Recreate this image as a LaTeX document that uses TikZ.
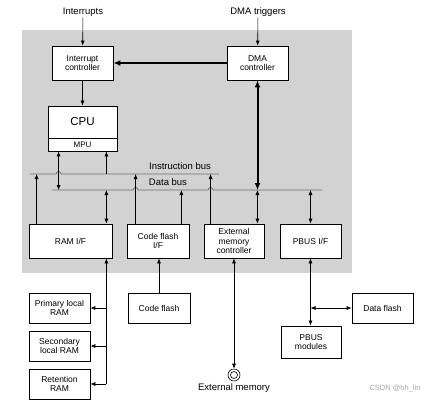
\documentclass[tikz,border=0pt]{standalone}
\usepackage{fontspec}
\setmainfont{Liberation Sans}
\usetikzlibrary{positioning}
\usetikzlibrary{arrows.meta}
\tikzstyle{unit} = [rectangle, draw=black, fill=white, line width=0.8pt, text centered, align=center, inner sep=1pt, font=\fontsize{8.5}{9.3}\selectfont]
\tikzstyle{sig} = [inner sep=1pt, font=\fontsize{9.5}{11}\selectfont]
\tikzstyle{arrow} = [line width=0.6pt, ->, >={Latex[length=5pt,width=4pt]}]
\tikzstyle{twoway} = [arrow, <->]
\tikzstyle{thickarrow} = [line width=2pt, ->, >={Latex[length=7pt,width=6pt]}]
\tikzstyle{bus} = [line width=0.8pt, gray!85!black]

\begin{document}
\begin{tikzpicture}[x=1pt, y=-1pt]
\useasboundingbox (0,0) rectangle (434,400);
\fill[gray!35] (22,30) rectangle (352,273);

% controllers and cpu
\node (irq) [sig] at (83,12) {Interrupts};
\node (dmatrig) [sig] at (258,12) {DMA triggers};
\node (intc) [unit, minimum width=61pt, minimum height=34pt] at (82.5,63) {Interrupt\\controller};
\node (dmac) [unit, minimum width=61pt, minimum height=34pt] at (257.5,63) {DMA\\controller};
\node (cpu) [unit, minimum width=69pt, minimum height=32pt, font=\fontsize{11.5}{13}\selectfont] at (82.5,122) {CPU};
\node (mpu) [unit, minimum width=69pt, minimum height=13pt, font=\fontsize{8}{9}\selectfont] at (82.5,144.5) {MPU};

% interfaces
\node (ramif) [unit, minimum width=83pt, minimum height=34pt] at (70.5,241) {RAM I/F};
\node (cfif) [unit, minimum width=62pt, minimum height=34pt] at (158,241) {Code flash\\I/F};
\node (emc) [unit, minimum width=60pt, minimum height=34pt] at (234,241) {External\\memory\\controller};
\node (pbusif) [unit, minimum width=61pt, minimum height=34pt] at (310.5,241) {PBUS I/F};

% memories and modules
\node (prim) [unit, minimum width=61pt, minimum height=30pt] at (59.5,308) {Primary local\\RAM};
\node (sec) [unit, minimum width=61pt, minimum height=30pt] at (59.5,346) {Secondary\\local RAM};
\node (ret) [unit, minimum width=61pt, minimum height=30pt] at (59.5,384) {Retention\\RAM};
\node (cflash) [unit, minimum width=62pt, minimum height=30pt] at (159,308) {Code flash};
\node (pbusmod) [unit, minimum width=60pt, minimum height=32pt] at (311,342) {PBUS\\modules};
\node (dflash) [unit, minimum width=61pt, minimum height=30pt] at (382.5,308) {Data flash};
\node (extmem) [circle, draw, line width=0.6pt, minimum size=12pt, inner sep=0pt] at (234,375) {};
\draw[line width=0.6pt] (extmem.center) circle[radius=3.5pt];
\node (extmemlabel) [sig] at (234,388) {External memory};
\node (mark) [font=\fontsize{7.5}{9}\selectfont, text=gray!70] at (395,389) {CSDN @hh\_lin};

% buses
\coordinate (ibw) at (30,174);
\coordinate (ibe) at (219,174);
\coordinate (dbw) at (52,190);
\coordinate (dbe) at (322,190);
\node (iblabel) [sig] at (180,166) {Instruction bus};
\node (dblabel) [sig] at (168,182) {Data bus};

\coordinate (cpud) at ([xshift=11pt]mpu.south west);
\coordinate (cpui) at ([xshift=-11pt]mpu.south east);
\coordinate (rami) at ([xshift=8pt]ramif.north west);
\coordinate (ramd) at ([xshift=-6pt]ramif.north east);
\coordinate (cfi) at ([xshift=9pt]cfif.north west);
\coordinate (cfd) at ([xshift=-8pt]cfif.north east);
\coordinate (emi) at ([xshift=7pt]emc.north west);
\coordinate (emd) at ([xshift=-7pt]emc.north east);

\draw[bus] (ibw) -- ([xshift=-2.5pt]cpud |- ibw) arc[start angle=180, end angle=0, radius=2.5pt] -- (ibe);
\draw[bus] (dbw) -- ([xshift=-2.5pt]cfi |- dbw) arc[start angle=180, end angle=0, radius=2.5pt]
  -- ([xshift=-2.5pt]emi |- dbw) arc[start angle=180, end angle=0, radius=2.5pt] -- (dbe);

% connections
\draw [arrow] (irq) -- (intc);
\draw [arrow] (dmatrig) -- (dmac);
\draw [arrow] (intc) -- (cpu);
\draw [thickarrow] (dmac.west) -- (intc.east);
\draw [thickarrow, <->] (dmac.south) -- (dmac.south |- dbw);

\draw [twoway] (cpud) -- (cpud |- dbw);
\draw [arrow] (cpui |- ibw) -- (cpui);
\draw [arrow] (rami) -- (rami |- ibw);
\draw [twoway] (ramd |- dbw) -- (ramd);
\draw [arrow] (cfi) -- (cfi |- ibw);
\draw [arrow] (cfd) -- (cfd |- dbw);
\draw [arrow] (emi) -- (emi |- ibw);
\draw [twoway] (emd |- dbw) -- (emd);
\draw [twoway] (pbusif.north |- dbw) -- (pbusif.north);

\coordinate (ramt) at ([xshift=-6pt]ramif.south east);
\draw [arrow] (ramt |- ret.east) -- (ramt);
\foreach \m in {prim,sec,ret}
  \draw [arrow] (ramt |- \m.east) -- (\m.east);
\draw [arrow] (cflash.north) -- (cflash.north |- cfif.south);
\draw [twoway] (emc.south) -- (extmem.north);
\draw [twoway] (pbusif.south) -- (pbusif.south |- pbusmod.north);
\draw [twoway] (pbusif.south |- dflash.west) -- (dflash.west);

\end{tikzpicture}
\end{document}
